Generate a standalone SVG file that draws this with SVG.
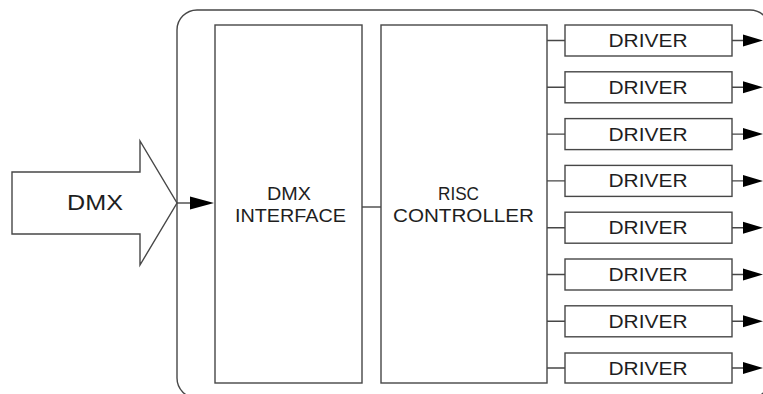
<svg xmlns="http://www.w3.org/2000/svg" width="763" height="394" viewBox="0 0 763 394">
<defs>
<style>
.box{fill:#fff;stroke:#474747;stroke-width:1.4}
.ln{fill:none;stroke:#474747;stroke-width:1.4}
.ah{fill:#000;stroke:none}
.t{font-family:"Liberation Sans",Arial,sans-serif;font-size:18px;fill:#1e1e1e;text-anchor:middle}
.big{font-size:22px}
</style>
</defs>
<rect width="763" height="394" fill="#fff"/>
<g id="enclosure"><rect class="box" x="177" y="10" width="593" height="388" rx="20" ry="20"/></g>
<g id="dmx-input">
<path class="box" d="M12,172 L140,172 L140,141 L177,203 L140,265 L140,234 L12,234 Z"/>
<text class="t big" x="95" y="210" textLength="56" lengthAdjust="spacingAndGlyphs">DMX</text>
</g>
<g id="dmx-interface">
<rect class="box" x="215" y="25" width="147" height="358"/>
<text class="t" x="289" y="199.5" textLength="44" lengthAdjust="spacingAndGlyphs">DMX</text>
<text class="t" x="290.5" y="221.5" textLength="111" lengthAdjust="spacingAndGlyphs">INTERFACE</text>
</g>
<g id="risc-controller">
<rect class="box" x="381" y="25" width="166" height="358"/>
<text class="t" x="458.5" y="199.5" textLength="41" lengthAdjust="spacingAndGlyphs">RISC</text>
<text class="t" x="463.5" y="221.5" textLength="141" lengthAdjust="spacingAndGlyphs">CONTROLLER</text>
</g>
<g id="driver1"><rect class="box" x="565" y="25" width="167" height="31"/><text class="t" x="648" y="47" textLength="79" lengthAdjust="spacingAndGlyphs">DRIVER</text></g>
<g id="driver2"><rect class="box" x="565" y="71.8" width="167" height="31"/><text class="t" x="648" y="93.8" textLength="79" lengthAdjust="spacingAndGlyphs">DRIVER</text></g>
<g id="driver3"><rect class="box" x="565" y="118.6" width="167" height="31"/><text class="t" x="648" y="140.6" textLength="79" lengthAdjust="spacingAndGlyphs">DRIVER</text></g>
<g id="driver4"><rect class="box" x="565" y="165.4" width="167" height="31"/><text class="t" x="648" y="187.4" textLength="79" lengthAdjust="spacingAndGlyphs">DRIVER</text></g>
<g id="driver5"><rect class="box" x="565" y="212.2" width="167" height="31"/><text class="t" x="648" y="234.2" textLength="79" lengthAdjust="spacingAndGlyphs">DRIVER</text></g>
<g id="driver6"><rect class="box" x="565" y="259" width="167" height="31"/><text class="t" x="648" y="281" textLength="79" lengthAdjust="spacingAndGlyphs">DRIVER</text></g>
<g id="driver7"><rect class="box" x="565" y="305.8" width="167" height="31"/><text class="t" x="648" y="327.8" textLength="79" lengthAdjust="spacingAndGlyphs">DRIVER</text></g>
<g id="driver8"><rect class="box" x="565" y="353" width="167" height="30"/><text class="t" x="648" y="374.5" textLength="79" lengthAdjust="spacingAndGlyphs">DRIVER</text></g>
<g id="connectors">
<path class="ln" d="M177,203 H191"/>
<path class="ah" d="M190,196.5 L214,203 L190,209.5 Z"/>
<path class="ln" d="M362,207 H381"/>
<path class="ln" d="M547,40.5 H565 M547,87.3 H565 M547,134.1 H565 M547,180.9 H565 M547,227.7 H565 M547,274.5 H565 M547,321.3 H565 M547,368 H565"/>
<path class="ln" d="M732,40.5 H744 M732,87.3 H744 M732,134.1 H744 M732,180.9 H744 M732,227.7 H744 M732,274.5 H744 M732,321.3 H744 M732,368 H744"/>
<g class="ah">
<path d="M743,34.5 L763,40.5 L743,46.5 Z"/>
<path d="M743,81.3 L763,87.3 L743,93.3 Z"/>
<path d="M743,128.1 L763,134.1 L743,140.1 Z"/>
<path d="M743,174.9 L763,180.9 L743,186.9 Z"/>
<path d="M743,221.7 L763,227.7 L743,233.7 Z"/>
<path d="M743,268.5 L763,274.5 L743,280.5 Z"/>
<path d="M743,315.3 L763,321.3 L743,327.3 Z"/>
<path d="M743,362 L763,368 L743,374 Z"/>
</g>
</g>
</svg>
